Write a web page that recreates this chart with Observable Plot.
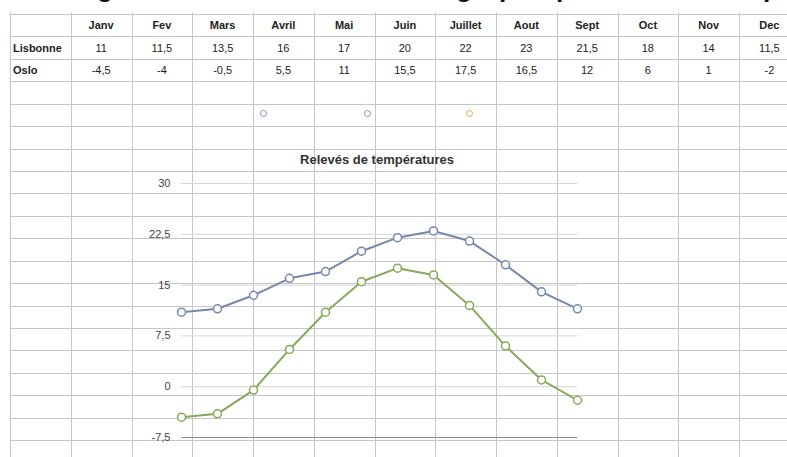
<!DOCTYPE html>
<html>
<head>
<meta charset="utf-8">
<script src="https://cdn.jsdelivr.net/npm/d3@7"></script>
<script src="https://cdn.jsdelivr.net/npm/@observablehq/plot@0.6"></script>
<style>
  html, body { margin: 0; padding: 0; background: #fff; }
  #page { position: relative; width: 787px; height: 457px; overflow: hidden; background: #fff;
          font-family: "Liberation Sans", Arial, Helvetica, sans-serif; color: #222; }
  .gl { position: absolute; background: #c6c6c6; }
  .cell { position: absolute; font-size: 11px; line-height: 14px; white-space: nowrap; }
  .hdr { font-weight: bold; }
  #topclip { position: absolute; left: 0; top: 0; width: 787px; height: 9px; overflow: hidden; }
  #topclip span { position: absolute; top: -25px; font-size: 26px; line-height: 26px; font-weight: bold; color: #111; }
  .leg { position: absolute; width: 5px; height: 5px; border-radius: 50%; border: 1.6px solid; background: #fff; }
  #ctitle { position: absolute; left: 192px; width: 370px; top: 152px; text-align: center;
            font-size: 13px; font-weight: bold; color: #333; }
  #chart { position: absolute; left: 120px; top: 170px; }
</style>
</head>
<body>
<div id="page">
  <div id="topclip"></div>
  <div id="grid"></div>
  <div id="table"></div>
  <div id="legend"></div>
  <div id="ctitle">Relevés de températures</div>
  <div id="chart"></div>
</div>
<script>
// ---- data ----
const months = ["Janv", "Fev", "Mars", "Avril", "Mai", "Juin", "Juillet", "Aout", "Sept", "Oct", "Nov", "Dec"];
const cities = ["Lisbonne", "Oslo"];
const lisbonne = [11, 11.5, 13.5, 16, 17, 20, 22, 23, 21.5, 18, 14, 11.5];
const oslo = [-4.5, -4, -0.5, 5.5, 11, 15.5, 17.5, 16.5, 12, 6, 1, -2];
const yTicks = [30, 22.5, 15, 7.5, 0, -7.5];
const chartTitle = "Relevés de températures";
const lineColors = ["#7689ab", "#86a95a"];
const legendColors = ["#8c8cc0", "#78a85a", "#e6a64a"];
const topGlyphs = ["g", "g", "p", "p", "p"];

const fmt = d => String(d).replace(".", ",");

// ---- spreadsheet grid ----
const grid = document.getElementById("grid");
const colW = 60.75, rowH = 22.43, x0 = 10, y0 = 14;
for (let k = 0; x0 + k * colW < 787; k++) {
  const d = document.createElement("div");
  d.className = "gl";
  d.style.left = Math.round(x0 + k * colW) + "px";
  d.style.top = "12px"; d.style.width = "1px"; d.style.height = "445px";
  grid.appendChild(d);
}
for (let k = 0; y0 + k * rowH < 457; k++) {
  const d = document.createElement("div");
  d.className = "gl";
  d.style.top = Math.round(y0 + k * rowH) + "px";
  d.style.left = "10px"; d.style.width = "777px"; d.style.height = "1px";
  grid.appendChild(d);
}

// ---- clipped title glyphs at the top ----
const topX = [97, 456, 499, 556, 763];
const tc = document.getElementById("topclip");
topGlyphs.forEach((g, i) => {
  const s = document.createElement("span");
  s.textContent = g; s.style.left = topX[i] + "px";
  tc.appendChild(s);
});

// ---- table ----
const table = document.getElementById("table");
function cell(text, cx, cy, cls, align) {
  const d = document.createElement("div");
  d.className = "cell " + (cls || "");
  d.textContent = text;
  if (align === "left") { d.style.left = cx + "px"; }
  else { d.style.left = (cx - 40) + "px"; d.style.width = "80px"; d.style.textAlign = "center"; }
  d.style.top = (cy - 7) + "px";
  table.appendChild(d);
}
const rowCy = i => y0 + rowH * (i + 0.5);
months.forEach((m, i) => {
  const cx = x0 + colW * (i + 1.5);
  cell(m, cx, rowCy(0), "hdr");
  cell(fmt(lisbonne[i]), cx, rowCy(1));
  cell(fmt(oslo[i]), cx, rowCy(2));
});
cell(cities[0], 13, rowCy(1), "hdr", "left");
cell(cities[1], 13, rowCy(2), "hdr", "left");

// ---- legend symbols ----
const legX = [264, 368, 470];
const legend = document.getElementById("legend");
legendColors.forEach((c, i) => {
  const d = document.createElement("div");
  d.className = "leg";
  d.style.borderColor = c;
  d.style.left = (legX[i] - 4) + "px";
  d.style.top = (114 - 4) + "px";
  legend.appendChild(d);
});

// ---- chart ----
const data = months.flatMap((m, i) => [
  {month: m, city: cities[0], t: lisbonne[i]},
  {month: m, city: cities[1], t: oslo[i]}
]);

const chart = Plot.plot({
  width: 480,
  height: 280,
  marginTop: 13,
  marginBottom: 13,
  marginLeft: 61,
  marginRight: 23,
  style: {background: "transparent", fontFamily: "'Liberation Sans', Arial, sans-serif", fontSize: "11px", color: "#444"},
  x: {type: "point", domain: months, padding: 0, axis: null},
  y: {domain: [-7.5, 30], ticks: yTicks, tickFormat: fmt, tickSize: 0, tickPadding: 11, label: null},
  color: {domain: cities, range: lineColors},
  marks: [
    Plot.ruleY(yTicks.filter(d => d > -7.5), {stroke: "#d6d6d6", strokeWidth: 1}),
    Plot.ruleY([-7.5], {stroke: "#8c8c8c", strokeWidth: 1}),
    Plot.line(data, {x: "month", y: "t", z: "city", stroke: "city", strokeWidth: 2}),
    Plot.dot(data, {x: "month", y: "t", stroke: "city", fill: "white", r: 4, strokeWidth: 1.5})
  ]
});
document.getElementById("chart").appendChild(chart);
</script>
</body>
</html>
